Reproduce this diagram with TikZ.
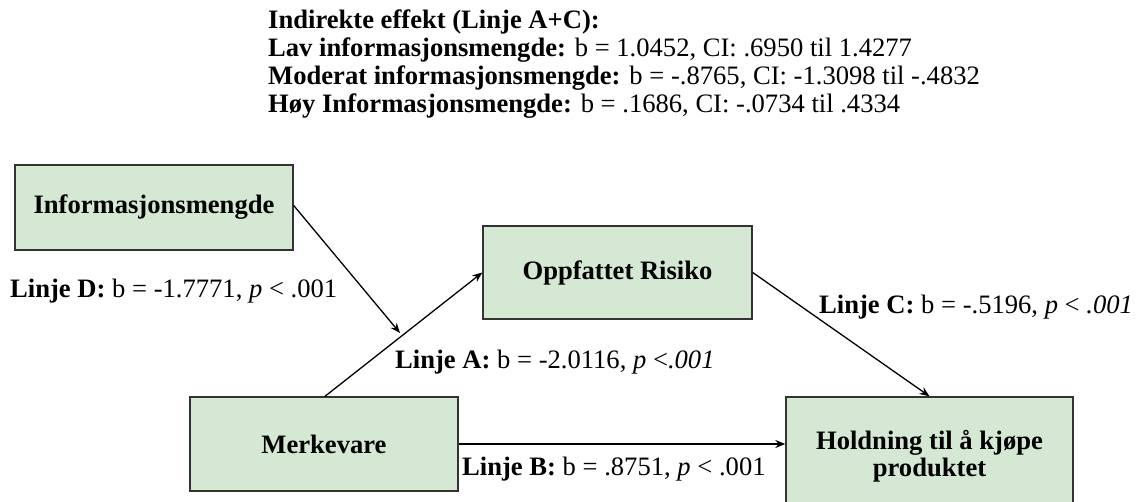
\documentclass[tikz,border=0pt]{standalone}
\usepackage{fontspec}
\setmainfont{Liberation Serif}
\usetikzlibrary{arrows.meta}
\definecolor{boxfill}{HTML}{D5E8D4}
\definecolor{boxline}{HTML}{333333}
\begin{document}
\begin{tikzpicture}[x=1pt,y=-1pt,
  box/.style={draw=boxline, fill=boxfill, line width=1.4pt,
    font=\fontsize{26.6}{27}\selectfont\bfseries, align=center, inner sep=0pt},
  lbl/.style={anchor=base west, inner sep=0pt, font=\fontsize{26.6}{28}\selectfont},
  conn/.style={draw=black, line width=1.3pt, -{Stealth[length=10pt,width=8pt]}}]
\clip (0,0) rectangle (1142,502);
\fill[white] (0,0) rectangle (1142,502);

% variables
\node[box, minimum width=278pt, minimum height=85pt] (info) at (154,207.5) {Informasjonsmengde};
\node[box, minimum width=269pt, minimum height=93pt] (risk) at (617.5,272.5) {Oppfattet Risiko};
\node[box, minimum width=268pt, minimum height=94pt] (brand) at (324,444) {Merkevare};
\node[box, minimum width=287pt, minimum height=118pt] (att) at (929.5,456) {Holdning til å kjøpe\\produktet};

% moderation target on path A
\coordinate (mod) at (400,333);

% paths
\draw[conn] (brand.north) ++(1,0) coordinate (aStart) -- (risk.west);
\draw[conn] (info.east) ++(0,-2) -- (mod);
\draw[conn] (risk.east) -- (att.north);
\draw[conn] (brand.east) -- (att.west |- brand.east);

% path labels
\node[lbl] (labD) at (10,298) {\textbf{Linje D:} b = -1.7771, \textit{p} < .001};
\node[lbl] (labA) at (395,368) {\textbf{Linje A:} b = -2.0116, \textit{p} <\textit{.001}};
\node[lbl] (labC) at (819,313) {\textbf{Linje C:} b = -.5196, \textit{p} < \textit{.001}};
\node[lbl] (labB) at (462,475) {\textbf{Linje B:} b = .8751, \textit{p} < .001};

% indirect effects
\node[lbl] (hdr1) at (268,29) {\textbf{Indirekte effekt (Linje A+C):}};
\node[lbl] (hdr2) at (268,57) {\textbf{Lav informasjonsmengde:} b = 1.0452, CI: .6950 til 1.4277};
\node[lbl] (hdr3) at (268,85) {\textbf{Moderat informasjonsmengde:} b = -.8765, CI: -1.3098 til -.4832};
\node[lbl] (hdr4) at (268,113) {\textbf{Høy Informasjonsmengde:} b = .1686, CI: -.0734 til .4334};
\end{tikzpicture}
\end{document}
